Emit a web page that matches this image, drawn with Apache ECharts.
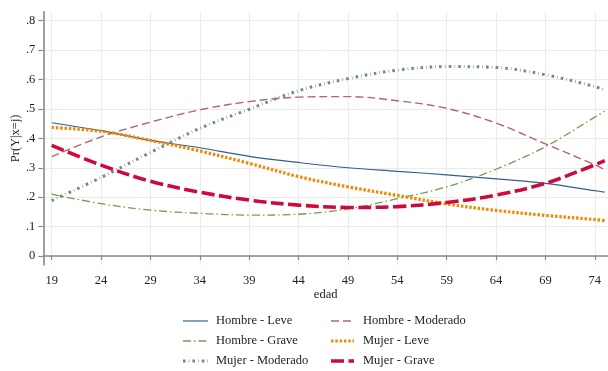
<!DOCTYPE html>
<html>
<head>
<meta charset="utf-8">
<script src="https://cdn.jsdelivr.net/npm/echarts@6/dist/echarts.min.js"></script>
<style>
  html, body { margin: 0; padding: 0; background: #ffffff; }
  #chart { width: 608px; height: 371px; }
</style>
</head>
<body>
<div id="chart"></div>
<script>
// ---- data ----
var edad = [19, 24, 29, 34, 39, 44, 49, 54, 59, 64, 69, 74, 75];
var hombreLeve     = [0.453, 0.426, 0.393, 0.368, 0.339, 0.318, 0.300, 0.288, 0.276, 0.262, 0.247, 0.222, 0.217];
var hombreModerado = [0.338, 0.405, 0.455, 0.497, 0.525, 0.540, 0.542, 0.528, 0.502, 0.452, 0.381, 0.310, 0.293];
var hombreGrave    = [0.210, 0.178, 0.156, 0.145, 0.139, 0.142, 0.160, 0.195, 0.235, 0.295, 0.372, 0.472, 0.493];
var mujerLeve      = [0.437, 0.424, 0.393, 0.357, 0.315, 0.270, 0.235, 0.206, 0.177, 0.155, 0.138, 0.124, 0.120];
var mujerModerado  = [0.188, 0.267, 0.352, 0.434, 0.499, 0.562, 0.603, 0.632, 0.644, 0.641, 0.616, 0.576, 0.565];
var mujerGrave     = [0.376, 0.309, 0.254, 0.217, 0.190, 0.173, 0.165, 0.168, 0.182, 0.207, 0.247, 0.310, 0.324];

var xTickValues = [19, 24, 29, 34, 39, 44, 49, 54, 59, 64, 69, 74];
var yTickValues = [0, 0.1, 0.2, 0.3, 0.4, 0.5, 0.6, 0.7, 0.8];
var yTickLabels = ['0', '.1', '.2', '.3', '.4', '.5', '.6', '.7', '.8'];

var seriesNames = ['Hombre - Leve', 'Hombre - Moderado', 'Hombre - Grave',
                   'Mujer - Leve', 'Mujer - Moderado', 'Mujer - Grave'];
var seriesValues = [hombreLeve, hombreModerado, hombreGrave, mujerLeve, mujerModerado, mujerGrave];

// ---- styles ----
var styles = [
  { color: '#335f8e', width: 1.2, type: 'solid' },
  { color: '#b3676a', width: 1.4, type: [8, 4] },
  { color: '#789a52', width: 1.3, type: [8, 3, 1.5, 3] },
  { color: '#ef8a05', width: 3.2, type: [2.5, 1.8] },
  { color: '#6e8e84', width: 3.0, type: [2.6, 3.1, 0.6, 3.1] },
  { color: '#cc0a3c', width: 3.6, type: [13, 4.5] }
];

var FONT = '"Liberation Serif", "DejaVu Serif", serif';

var series = seriesNames.map(function (name, i) {
  return {
    name: name,
    type: 'line',
    data: edad.map(function (a, j) { return [a, seriesValues[i][j]]; }),
    smooth: 0.35,
    symbol: 'none',
    showSymbol: false,
    lineStyle: { color: styles[i].color, width: styles[i].width, type: styles[i].type, cap: 'butt' },
    itemStyle: { color: styles[i].color },
    z: 2 + i
  };
});

// ---- legend drawn as graphic (two columns) ----
var legendCols = [
  { lineX: 183, lineLen: 25, textX: 216, items: [0, 2, 4] },
  { lineX: 331, lineLen: 23, textX: 363, items: [1, 3, 5] }
];
var legendRowsY = [321, 341, 361];
var graphics = [];
legendCols.forEach(function (col) {
  col.items.forEach(function (si, r) {
    var s = styles[si];
    var y = legendRowsY[r];
    graphics.push({
      type: 'line',
      shape: { x1: col.lineX, y1: y, x2: col.lineX + col.lineLen, y2: y },
      style: {
        stroke: s.color, lineWidth: s.width,
        lineDash: s.type === 'solid' ? null : s.type, lineCap: 'butt'
      },
      silent: true
    });
    graphics.push({
      type: 'text',
      x: col.textX, y: y,
      style: {
        text: seriesNames[si], fill: '#222',
        font: '12.5px ' + FONT, verticalAlign: 'middle', align: 'left'
      },
      silent: true
    });
  });
});

var option = {
  backgroundColor: '#ffffff',
  animation: false,
  grid: { left: 43.3, right: 0, top: 11.7, bottom: 106, containLabel: false, outerBoundsMode: 'none' },
  graphic: graphics,
  xAxis: {
    type: 'value',
    min: 18.15,
    max: 75.33,
    name: 'edad',
    nameLocation: 'middle',
    nameGap: 23,
    nameMoveOverlap: false,
    nameTextStyle: { fontFamily: FONT, fontSize: 12.5, color: '#222' },
    axisLine: { show: true, lineStyle: { color: '#8a8a8a', width: 1.6 } },
    axisTick: { show: true, inside: false, length: 4, lineStyle: { color: '#8a8a8a', width: 1.2 }, customValues: xTickValues },
    axisLabel: { customValues: xTickValues, fontFamily: FONT, fontSize: 12.5, color: '#222', margin: 9 },
    splitLine: { show: true, lineStyle: { color: '#ebebeb', width: 1 } }
  },
  yAxis: {
    type: 'value',
    min: -0.0306,
    max: 0.8306,
    name: 'Pr(Y|x=j)',
    nameLocation: 'middle',
    nameGap: 21,
    nameMoveOverlap: false,
    nameRotate: 90,
    nameTextStyle: { fontFamily: FONT, fontSize: 12.5, color: '#222' },
    axisLine: { show: true, lineStyle: { color: '#8a8a8a', width: 1.6 } },
    axisTick: { show: true, inside: false, length: 5, lineStyle: { color: '#8a8a8a', width: 1.2 }, customValues: yTickValues },
    axisLabel: {
      customValues: yTickValues,
      fontFamily: FONT, fontSize: 12.5, color: '#222', margin: 8,
      formatter: function (v) {
        var k = Math.round(v * 10);
        return yTickLabels[k] !== undefined ? yTickLabels[k] : '';
      }
    },
    splitLine: { show: true, lineStyle: { color: '#ebebeb', width: 1 } }
  },
  series: series
};

var chart = echarts.init(document.getElementById('chart'), null, { renderer: 'canvas' });
chart.setOption(option);
</script>
</body>
</html>
